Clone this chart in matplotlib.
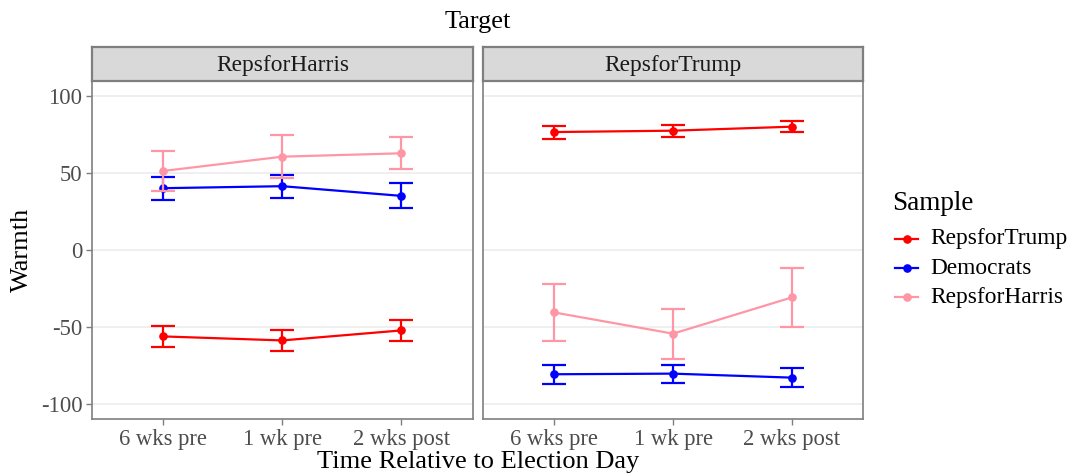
import matplotlib
matplotlib.use("Agg")
import matplotlib.pyplot as plt
from matplotlib.lines import Line2D

plt.rcParams['font.family'] = ['Liberation Serif', 'DejaVu Serif']
plt.rcParams['axes.unicode_minus'] = False

# Survey periods
times = ["6 wks pre", "1 wk pre", "2 wks post"]
targets = ["RepsforHarris", "RepsforTrump"]
samples = ["RepsforTrump", "Democrats", "RepsforHarris"]
sample_colors = ["#FF0000", "#0000FF", "#FF96A6"]

# Mean warmth with 95% interval bounds, target = RepsforHarris
harris_trump_mean = [-56.3, -58.9, -52.4]
harris_trump_lo = [-63.0, -65.8, -59.3]
harris_trump_hi = [-49.5, -52.1, -45.5]
harris_dem_mean = [40.1, 41.4, 35.1]
harris_dem_lo = [32.3, 33.6, 27.1]
harris_dem_hi = [47.7, 49.0, 43.3]
harris_harris_mean = [51.3, 60.6, 62.8]
harris_harris_lo = [38.3, 46.8, 52.4]
harris_harris_hi = [64.1, 74.5, 73.2]

# Mean warmth with 95% interval bounds, target = RepsforTrump
trump_trump_mean = [76.6, 77.5, 80.1]
trump_trump_lo = [72.3, 73.4, 76.6]
trump_trump_hi = [80.5, 81.4, 83.6]
trump_dem_mean = [-80.9, -80.5, -83.1]
trump_dem_lo = [-87.2, -86.6, -89.0]
trump_dem_hi = [-74.9, -74.7, -77.0]
trump_harris_mean = [-40.7, -54.5, -30.9]
trump_harris_lo = [-59.5, -71.0, -50.0]
trump_harris_hi = [-22.1, -38.5, -12.1]

panel_data = {
    "RepsforHarris": [
        (harris_trump_mean, harris_trump_lo, harris_trump_hi),
        (harris_dem_mean, harris_dem_lo, harris_dem_hi),
        (harris_harris_mean, harris_harris_lo, harris_harris_hi),
    ],
    "RepsforTrump": [
        (trump_trump_mean, trump_trump_lo, trump_trump_hi),
        (trump_dem_mean, trump_dem_lo, trump_dem_hi),
        (trump_harris_mean, trump_harris_lo, trump_harris_hi),
    ],
}

W, H = 1068, 474
fig = plt.figure(figsize=(W / 100, H / 100), dpi=100)
fig.patch.set_facecolor("white")

panel_lefts = [92, 482.7]
panel_w = 380.7
p_top, p_bot = 80.7, 419.0
strip_top = 46.7

border_col = "#7F7F7F"
tick_col = "#4D4D4D"
x = list(range(1, len(times) + 1))
lw = 1.6
ms = 5.2

for i, tgt in enumerate(targets):
    left = panel_lefts[i] / W
    ax = fig.add_axes([left, (H - p_bot) / H, panel_w / W, (p_bot - p_top) / H])
    ax.set_xlim(0.4, 3.6)
    ax.set_ylim(-110, 110)
    ax.set_yticks([-100, -50, 0, 50, 100])
    ax.set_xticks(x)
    ax.set_xticklabels(times)
    for yv in [-100, -50, 0, 50, 100]:
        ax.axhline(yv, color="#EBEBEB", lw=1.1, zorder=0)
    for sp in ax.spines.values():
        sp.set_color(border_col)
        sp.set_linewidth(1.2)
    ax.tick_params(axis="both", colors=border_col, length=4, width=1.0,
                   labelsize=16.3, labelcolor=tick_col, pad=3)
    if i == 1:
        ax.tick_params(axis="y", left=False, labelleft=False)

    for k, (m, lo, hi) in enumerate(panel_data[tgt]):
        c = sample_colors[k]
        yerr = [[mm - l for mm, l in zip(m, lo)], [h - mm for mm, h in zip(m, hi)]]
        ax.errorbar(x, m, yerr=yerr, color=c, lw=lw, elinewidth=lw,
                    capsize=8.4, capthick=lw, marker="o", markersize=ms,
                    zorder=2 + k)

    # facet strip
    sax = fig.add_axes([left, (H - p_top) / H, panel_w / W, (p_top - strip_top) / H])
    sax.set_xticks([])
    sax.set_yticks([])
    sax.set_facecolor("#D9D9D9")
    for sp in sax.spines.values():
        sp.set_color(border_col)
        sp.set_linewidth(1.6)
    sax.text(0.5, 0.46, tgt, ha="center", va="center", fontsize=16.8,
             color="#1A1A1A", transform=sax.transAxes)

fig.text(478 / W, 1 - 22 / H, "Target", ha="center", va="center", fontsize=19)
fig.text(478 / W, 1 - 462 / H, "Time Relative to Election Day", ha="center",
         va="center", fontsize=19)
fig.text(22 / W, 1 - 250 / H, "Warmth", ha="center", va="center",
         rotation=90, fontsize=19)

# legend, drawn in figure pixel positions
fig.text(892 / W, 1 - 203 / H, "Sample", ha="left", va="center", fontsize=19.5)
row_y = [239, 268, 297]
for c, lab, yy in zip(sample_colors, samples, row_y):
    fy = 1 - yy / H
    fig.add_artist(Line2D([895 / W, 918 / W], [fy, fy], color=c, lw=lw,
                          transform=fig.transFigure))
    fig.add_artist(Line2D([906.5 / W], [fy], color=c, marker="o",
                          markersize=ms, transform=fig.transFigure))
    fig.text(930 / W, fy, lab, ha="left", va="center", fontsize=16.8)

fig.savefig("out.png", dpi=100)
